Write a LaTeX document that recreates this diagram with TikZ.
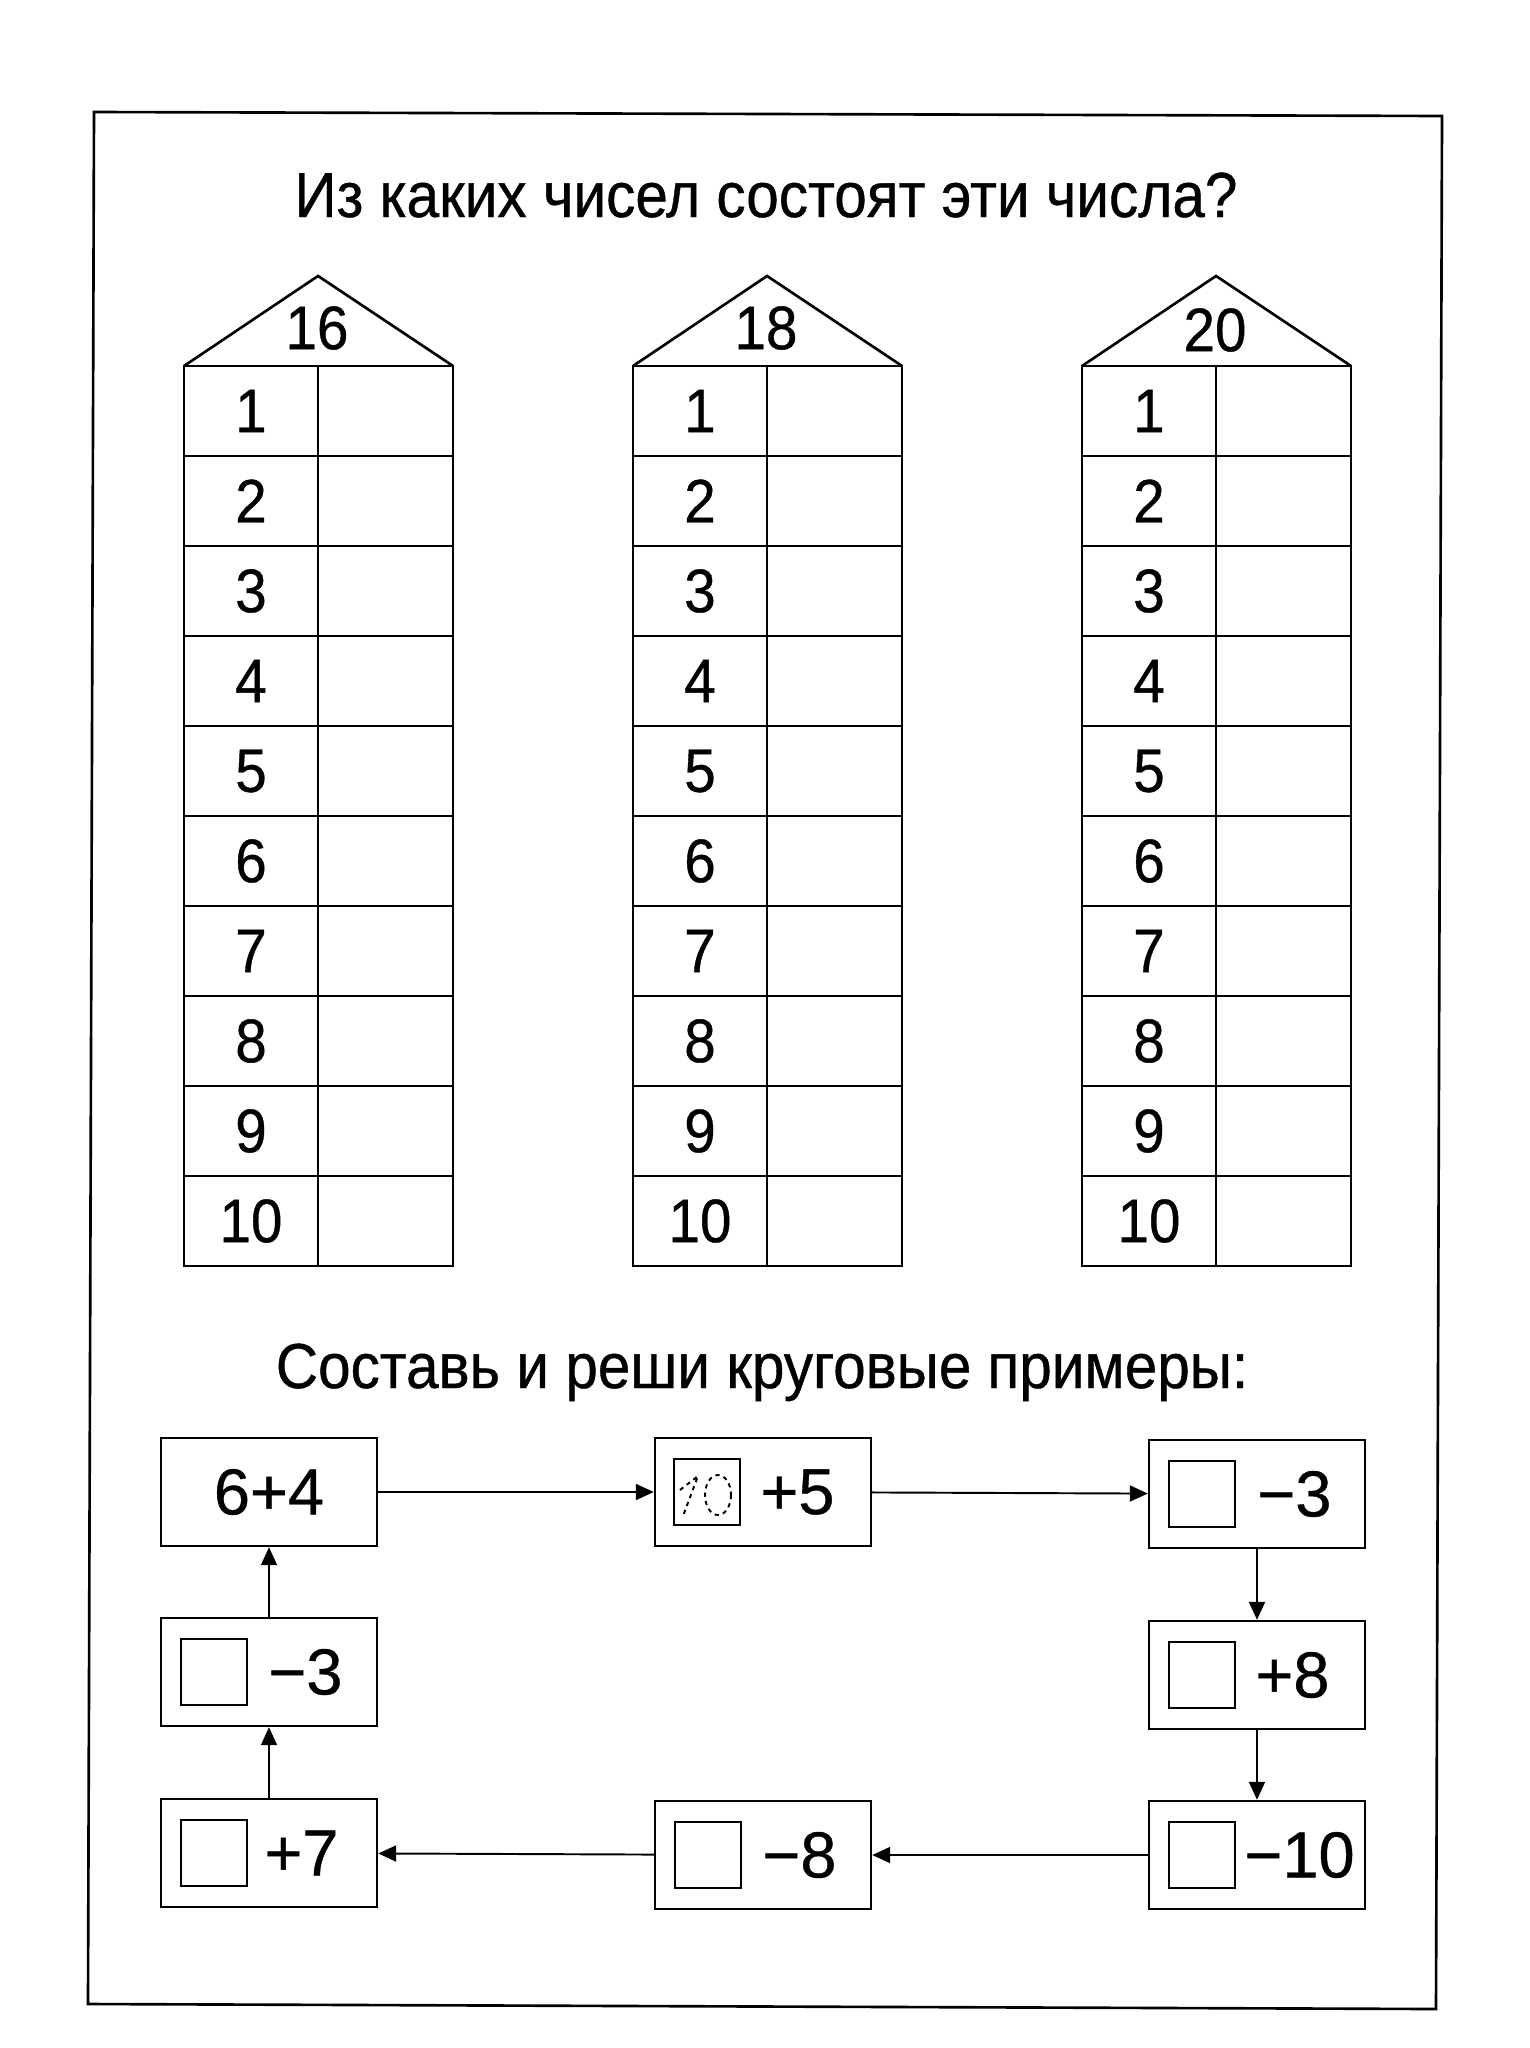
\documentclass[tikz,border=0pt]{standalone}
\usepackage{fontspec}
\setmainfont[FakeStretch=0.92,FakeBold=0.6]{Liberation Sans}
\newfontfamily\boxfont[FakeBold=0.6]{Liberation Sans}
\usetikzlibrary{arrows.meta,calc}

\begin{document}
\begin{tikzpicture}[x=0.02cm,y=-0.02cm,
	ruled/.style={black,line width=1.5pt},
	cell/.style={font=\fontsize{35}{40}\selectfont,inner sep=0pt},
	flowbox/.style={draw,line width=1.4pt,minimum width=4.32cm,minimum height=2.16cm,inner sep=0pt,font=\boxfont\fontsize{37}{40}\selectfont},
	blank/.style={draw,line width=1.3pt,minimum size=1.32cm,inner sep=0pt},
	sum/.style={font=\boxfont\fontsize{37}{40}\selectfont,inner sep=0pt,anchor=west},
	flow/.style={line width=1.1pt,-{Triangle[length=0.36cm,width=0.32cm]}}]
	\useasboundingbox ( 0 , 0 ) rectangle ( 1529 , 2048 );
	\draw[ruled] ( 94 , 112 )--( 1442 , 116 )--( 1436 , 2009 )--( 88 , 2004 )--cycle;
	\node[font=\fontsize{36.2}{42}\selectfont,anchor=base] (title) at ( 766 , 217 ) {Из каких чисел состоят эти числа?};
	\node[font=\fontsize{36.2}{42}\selectfont,anchor=base] (subtitle) at ( 762 , 1388 ) {Составь и реши круговые примеры:};
	\draw[ruled] ( 184 , 366 )--( 318 , 276 )--( 453 , 366 );
	\draw[ruled] ( 184 , 366 ) rectangle ( 453 , 1266 );
	\draw[ruled] ( 318 , 366 )--( 318 , 1266 );
	\draw[ruled] ( 184 , 456 )--( 453 , 456 );
	\draw[ruled] ( 184 , 546 )--( 453 , 546 );
	\draw[ruled] ( 184 , 636 )--( 453 , 636 );
	\draw[ruled] ( 184 , 726 )--( 453 , 726 );
	\draw[ruled] ( 184 , 816 )--( 453 , 816 );
	\draw[ruled] ( 184 , 906 )--( 453 , 906 );
	\draw[ruled] ( 184 , 996 )--( 453 , 996 );
	\draw[ruled] ( 184 , 1086 )--( 453 , 1086 );
	\draw[ruled] ( 184 , 1176 )--( 453 , 1176 );
	\draw[ruled] ( 633 , 366 )--( 767 , 276 )--( 902 , 366 );
	\draw[ruled] ( 633 , 366 ) rectangle ( 902 , 1266 );
	\draw[ruled] ( 767 , 366 )--( 767 , 1266 );
	\draw[ruled] ( 633 , 456 )--( 902 , 456 );
	\draw[ruled] ( 633 , 546 )--( 902 , 546 );
	\draw[ruled] ( 633 , 636 )--( 902 , 636 );
	\draw[ruled] ( 633 , 726 )--( 902 , 726 );
	\draw[ruled] ( 633 , 816 )--( 902 , 816 );
	\draw[ruled] ( 633 , 906 )--( 902 , 906 );
	\draw[ruled] ( 633 , 996 )--( 902 , 996 );
	\draw[ruled] ( 633 , 1086 )--( 902 , 1086 );
	\draw[ruled] ( 633 , 1176 )--( 902 , 1176 );
	\draw[ruled] ( 1082 , 366 )--( 1216 , 276 )--( 1351 , 366 );
	\draw[ruled] ( 1082 , 366 ) rectangle ( 1351 , 1266 );
	\draw[ruled] ( 1216 , 366 )--( 1216 , 1266 );
	\draw[ruled] ( 1082 , 456 )--( 1351 , 456 );
	\draw[ruled] ( 1082 , 546 )--( 1351 , 546 );
	\draw[ruled] ( 1082 , 636 )--( 1351 , 636 );
	\draw[ruled] ( 1082 , 726 )--( 1351 , 726 );
	\draw[ruled] ( 1082 , 816 )--( 1351 , 816 );
	\draw[ruled] ( 1082 , 906 )--( 1351 , 906 );
	\draw[ruled] ( 1082 , 996 )--( 1351 , 996 );
	\draw[ruled] ( 1082 , 1086 )--( 1351 , 1086 );
	\draw[ruled] ( 1082 , 1176 )--( 1351 , 1176 );
	\node[cell] (roofa) at ( 317 , 328 ) {16};
	\node[cell] (roofb) at ( 766 , 328 ) {18};
	\node[cell] (roofc) at ( 1215 , 330 ) {20};
	\node[cell] (a1) at ( 251 , 411 ) {1};
	\node[cell] (a2) at ( 251 , 501 ) {2};
	\node[cell] (a3) at ( 251 , 591 ) {3};
	\node[cell] (a4) at ( 251 , 681 ) {4};
	\node[cell] (a5) at ( 251 , 771 ) {5};
	\node[cell] (a6) at ( 251 , 861 ) {6};
	\node[cell] (a7) at ( 251 , 951 ) {7};
	\node[cell] (a8) at ( 251 , 1041 ) {8};
	\node[cell] (a9) at ( 251 , 1131 ) {9};
	\node[cell] (a10) at ( 251 , 1221 ) {10};
	\node[cell] (b1) at ( 700 , 411 ) {1};
	\node[cell] (b2) at ( 700 , 501 ) {2};
	\node[cell] (b3) at ( 700 , 591 ) {3};
	\node[cell] (b4) at ( 700 , 681 ) {4};
	\node[cell] (b5) at ( 700 , 771 ) {5};
	\node[cell] (b6) at ( 700 , 861 ) {6};
	\node[cell] (b7) at ( 700 , 951 ) {7};
	\node[cell] (b8) at ( 700 , 1041 ) {8};
	\node[cell] (b9) at ( 700 , 1131 ) {9};
	\node[cell] (b10) at ( 700 , 1221 ) {10};
	\node[cell] (c1) at ( 1149 , 411 ) {1};
	\node[cell] (c2) at ( 1149 , 501 ) {2};
	\node[cell] (c3) at ( 1149 , 591 ) {3};
	\node[cell] (c4) at ( 1149 , 681 ) {4};
	\node[cell] (c5) at ( 1149 , 771 ) {5};
	\node[cell] (c6) at ( 1149 , 861 ) {6};
	\node[cell] (c7) at ( 1149 , 951 ) {7};
	\node[cell] (c8) at ( 1149 , 1041 ) {8};
	\node[cell] (c9) at ( 1149 , 1131 ) {9};
	\node[cell] (c10) at ( 1149 , 1221 ) {10};
	\node[flowbox] (p1) at ( 269 , 1492 ) {6+4};
	\node[flowbox] (p2) at ( 763 , 1492 ) {};
	\node[flowbox] (p3) at ( 1257 , 1494 ) {};
	\node[flowbox] (p4) at ( 1257 , 1675 ) {};
	\node[flowbox] (p5) at ( 1257 , 1855 ) {};
	\node[flowbox] (p6) at ( 763 , 1855 ) {};
	\node[flowbox] (p7) at ( 269 , 1853 ) {};
	\node[flowbox] (p8) at ( 269 , 1672 ) {};
	\node[blank] (q2) at ($ (p2)+(-56,0) $) {};
	\node[blank] (q3) at ($ (p3)+(-55,0) $) {};
	\node[blank] (q4) at ($ (p4)+(-55,0) $) {};
	\node[blank] (q5) at ($ (p5)+(-55,0) $) {};
	\node[blank] (q6) at ($ (p6)+(-55,0) $) {};
	\node[blank] (q7) at ($ (p7)+(-55,0) $) {};
	\node[blank] (q8) at ($ (p8)+(-55,0) $) {};
	\node[sum] (s2) at ($ (p2)+(-3,0) $) {+5};
	\node[sum] (s3) at ($ (p3)+(0,0) $) {−3};
	\node[sum] (s4) at ($ (p4)+(-2,0) $) {+8};
	\node[sum] (s5) at ($ (p5)+(-13,0) $) {−10};
	\node[sum] (s6) at ($ (p6)+(-1,0) $) {−8};
	\node[sum] (s7) at ($ (p7)+(-5,0) $) {+7};
	\node[sum] (s8) at ($ (p8)+(-1,0) $) {−3};
	\draw[line width=1.1pt,dash pattern=on 2.4pt off 2.4pt] ( 680 , 1490 )--( 698 , 1476 )--( 683 , 1516 );
	\draw[line width=1.1pt,dash pattern=on 2.4pt off 2.4pt] ( 718 , 1495 ) ellipse [x radius=13,y radius=20];
	\draw[flow] (p1)--(p2);
	\draw[flow] (p2)--(p3);
	\draw[flow] (p3)--(p4);
	\draw[flow] (p4)--(p5);
	\draw[flow] (p5)--(p6);
	\draw[flow] (p6)--(p7);
	\draw[flow] (p7)--(p8);
	\draw[flow] (p8)--(p1);
\end{tikzpicture}
\end{document}
